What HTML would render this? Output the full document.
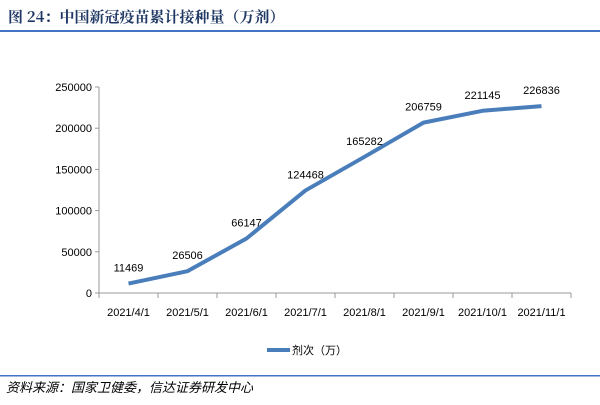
<!DOCTYPE html>
<html><head><meta charset="utf-8"><style>
body{margin:0;background:#fff;}
svg text{font-family:"Liberation Sans","Noto Sans CJK SC",sans-serif;}
</style></head><body>
<svg id="c" width="600" height="400" xmlns="http://www.w3.org/2000/svg">
<text x="8" y="22" font-size="15" font-weight="bold" fill="#1f3864" style="font-family:'Noto Serif CJK SC','Noto Sans CJK SC',serif">图 24：中国新冠疫苗累计接种量（万剂）</text>
<rect x="0" y="30" width="600" height="2" fill="#4472c4"/>
<g id="plot"></g>
<rect x="0" y="375" width="600" height="1.5" fill="#4472c4"/>
<text x="6" y="392" font-size="13" font-style="italic" fill="#000" style="font-family:'Noto Sans CJK SC',sans-serif">资料来源：国家卫健委，信达证券研发中心</text>
</svg>
<script>
const categories=["2021/4/1","2021/5/1","2021/6/1","2021/7/1","2021/8/1","2021/9/1","2021/10/1","2021/11/1"];
const values=[11469,26506,66147,124468,165282,206759,221145,226836];
const yTicks=[0,50000,100000,150000,200000,250000];
const NS="http://www.w3.org/2000/svg";
const g=document.getElementById('plot');
const x0=99,x1=571,y0=293,yTop=87,yMax=250000;
const bw=(x1-x0)/categories.length;
const xs=i=>x0+bw*(i+0.5);
const ys=v=>y0-(y0-yTop)*v/yMax;
function mk(t,a){const e=document.createElementNS(NS,t);for(const k in a)e.setAttribute(k,a[k]);g.appendChild(e);return e;}
let e=mk('line',{x1:x0,y1:yTop,x2:x0,y2:y0,stroke:'#999'});


e=mk('line',{x1:x0,y1:y0,x2:x1,y2:y0,stroke:'#999'});


yTicks.forEach(v=>{
 const t=mk('line',{x1:x0-4,y1:ys(v),x2:x0,y2:ys(v),stroke:'#999'});
 
 
 const l=mk('text',{x:x0-7,y:ys(v)+4,'font-size':11,'text-anchor':'end',fill:'#000'});
 l.textContent=v;
 
 
});
for(let i=0;i<=categories.length;i++){
 const t=mk('line',{x1:x0+bw*i,y1:y0,x2:x0+bw*i,y2:y0+5,stroke:'#999'});
 
 
}
categories.forEach((c,i)=>{
 const l=mk('text',{x:xs(i),y:316,'font-size':11,'text-anchor':'middle',fill:'#000'});
 l.textContent=c;
 
 
});
const p=mk('polyline',{points:values.map((v,i)=>xs(i)+','+ys(v)).join(' '),fill:'none',stroke:'#4a7ebb','stroke-width':4,'stroke-linejoin':'round'});


values.forEach((v,i)=>{
 const l=mk('text',{x:xs(i),y:ys(v)-12,'font-size':11,'text-anchor':'middle',fill:'#000'});
 l.textContent=v;
 
 
});
e=mk('line',{x1:267,y1:350,x2:290,y2:350,stroke:'#4a7ebb','stroke-width':4});


e=mk('text',{x:292,y:354,'font-size':11,fill:'#000'});
e.textContent='剂次（万）';


</script>
</body></html>
